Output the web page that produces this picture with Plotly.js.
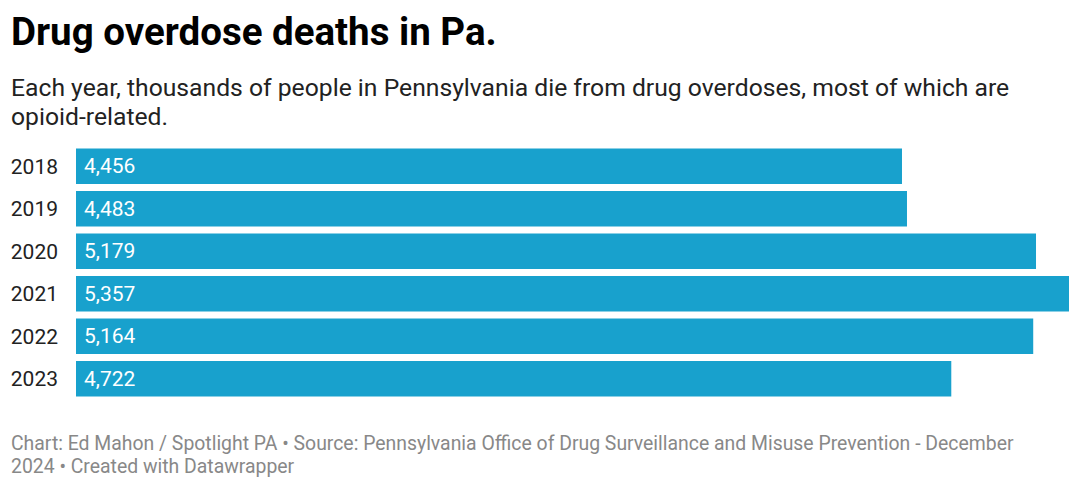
<!DOCTYPE html>
<html>
<head>
<meta charset="utf-8">
<script src="https://cdn.plot.ly/plotly-3.0.1.min.js"></script>
<style>html,body{margin:0;padding:0;background:#fff;}#chart{width:1080px;height:487px;}</style>
</head>
<body>
<div id="chart"></div>
<script>
const years = ["2018", "2019", "2020", "2021", "2022", "2023"];
const deaths = [4456, 4483, 5179, 5357, 5164, 4722];
const valueLabels = ["4,456", "4,483", "5,179", "5,357", "5,164", "4,722"];
const titleText = "Drug overdose deaths in Pa.";
const subtitleLines = [
  "Each year, thousands of people in Pennsylvania die from drug overdoses, most of which are",
  "opioid-related."
];
const footerLines = [
  "Chart: Ed Mahon / Spotlight PA • Source: Pennsylvania Office of Drug Surveillance and Misuse Prevention - December",
  "2024 • Created with Datawrapper"
];

const W = 1080, H = 487;
const ML = 76, MR = 11, MT = 145, MB = 87;
const PW = W - ML - MR, PH = H - MT - MB;
const px = x => (x - ML) / PW;
const py = y => (H - MB - y) / PH;
const FONT = "Roboto, sans-serif";

const annotations = [];
annotations.push({xref: "paper", yref: "paper", x: px(9), y: py(31), xanchor: "left", yanchor: "middle",
  text: "<b>" + titleText + "</b>", showarrow: false, font: {family: FONT, size: 38.5, color: "#000"}});
subtitleLines.forEach((t, i) => annotations.push({xref: "paper", yref: "paper", x: px(9), y: py(88 + i * 29), xanchor: "left", yanchor: "middle",
  text: t, showarrow: false, font: {family: FONT, size: 24.7, color: "#222"}}));
footerLines.forEach((t, i) => annotations.push({xref: "paper", yref: "paper", x: px(9), y: py(443 + i * 23), xanchor: "left", yanchor: "middle",
  text: t, showarrow: false, font: {family: FONT, size: 19.4, color: "#888"}}));
years.forEach((y, i) => annotations.push({xref: "x", yref: "y", x: 0, y: i, xanchor: "left", yanchor: "middle", xshift: 6,
  text: valueLabels[i], showarrow: false, font: {family: FONT, size: 21, color: "#fff"}}));

const data = [{
  type: "bar", orientation: "h", x: deaths, y: years,
  marker: {color: "#18a1cd"}, hoverinfo: "none"
}];

const layout = {
  width: W, height: H,
  margin: {l: ML, r: MR, t: MT, b: MB, pad: 0},
  paper_bgcolor: "#fff", plot_bgcolor: "#fff",
  font: {family: FONT},
  showlegend: false, bargap: 0.17,
  xaxis: {range: [0, 5357], visible: false, fixedrange: true},
  yaxis: {type: "category", categoryorder: "array", categoryarray: years, range: [5.5, -0.5],
    showgrid: false, zeroline: false, showline: false,
    ticks: "", ticklabelstandoff: 17, tickfont: {family: FONT, size: 21, color: "#222"}},
  annotations: annotations
};
Plotly.newPlot("chart", data, layout, {displayModeBar: false, staticPlot: true});
</script>
</body>
</html>
